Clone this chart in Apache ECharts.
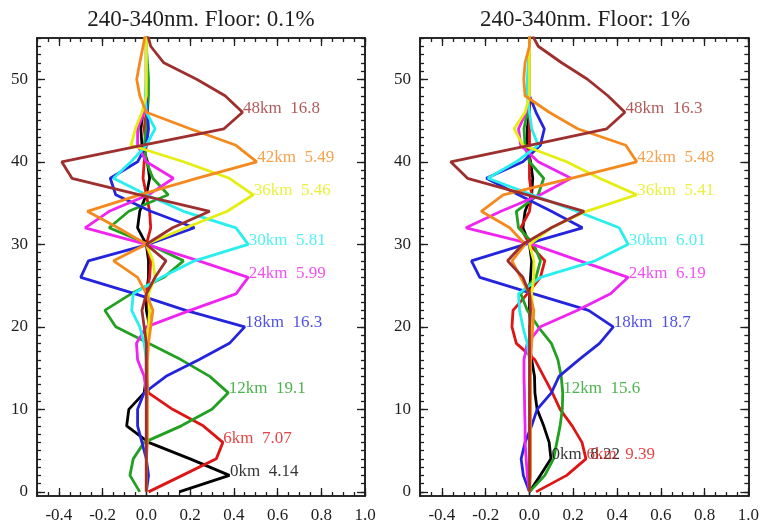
<!DOCTYPE html>
<html>
<head>
<meta charset="utf-8">
<title>Averaging kernels 240-340nm</title>
<script src="https://cdn.jsdelivr.net/npm/echarts@6/dist/echarts.min.js"></script>
<style>
  html, body { margin: 0; padding: 0; background: #ffffff; }
  #chart { width: 762px; height: 528px; }
</style>
</head>
<body>
<div id="chart"></div>
<script>
// Altitude grid of the kernels (km)
const ALT = [0, 2, 4, 6, 8, 10, 12, 14, 16, 18, 20, 22, 24, 26, 28, 30, 32, 34, 36, 38, 40, 42, 44, 46, 48, 50, 52, 54, 56];

// Axis tick labels
const X_TICKS = [-0.4, -0.2, 0.0, 0.2, 0.4, 0.6, 0.8, 1.0];
const Y_TICKS = [0, 10, 20, 30, 40, 50];

// Kernel names and colours (same order in both panels)
const KERNELS = ['0km', '6km', '12km', '18km', '24km', '30km', '36km', '42km', '48km'];
const COLORS = ['#000000', '#dd1515', '#22a022', '#2424dd', '#f024f0', '#28eeee', '#e4ee10', '#f48a1e', '#9e2f2f'];

// Panel titles
const TITLES = ['240-340nm. Floor: 0.1%', '240-340nm. Floor: 1%'];

// Values printed next to each kernel peak
const DOF_FLOOR_01 = ['4.14', '7.07', '19.1', '16.3', '5.99', '5.81', '5.46', '5.49', '16.8'];
const DOF_FLOOR_1 = ['8.22', '9.39', '15.6', '18.7', '6.19', '6.01', '5.41', '5.48', '16.3'];

// Floor 0.1% kernels, one value per altitude in ALT
const F01_0KM  = [0.15, 0.38, 0.20, 0.01, -0.09, -0.08, -0.01, 0.0, 0.0, 0.0, 0.015, 0.0, 0.0, 0.01, 0.01, 0.0, -0.04, -0.03, 0.0, 0.015, 0.005, -0.02, -0.025, -0.015, 0.0, 0.0, 0.0, 0.0, 0.0];
const F01_6KM  = [0.01, 0.165, 0.32, 0.35, 0.26, 0.12, 0.01, 0.0, 0.0, 0.0, 0.01, 0.015, 0.0, 0.015, 0.02, 0.0, 0.02, 0.015, 0.0, -0.015, -0.01, 0.0, -0.01, 0.0, 0.0, 0.0, 0.0, 0.0, 0.0];
const F01_12KM = [-0.03, -0.075, -0.06, -0.01, 0.16, 0.30, 0.375, 0.29, 0.16, 0.01, -0.14, -0.19, -0.07, 0.08, 0.17, 0.01, -0.17, -0.08, 0.10, 0.03, 0.0, -0.01, 0.0, 0.005, 0.01, 0.01, 0.005, 0.0, 0.0];
const F01_18KM = [0.0, 0.01, 0.0, -0.02, -0.04, -0.04, -0.01, 0.09, 0.24, 0.38, 0.45, 0.18, -0.05, -0.30, -0.265, 0.01, 0.22, 0.02, -0.14, -0.165, -0.04, 0.0, 0.01, 0.005, 0.0, 0.0, 0.0, 0.0, 0.0];
const F01_24KM = [0.0, 0.0, 0.0, 0.0, 0.0, 0.0, 0.0, -0.01, -0.04, -0.045, 0.0, 0.20, 0.41, 0.466, 0.24, 0.0, -0.28, -0.17, 0.01, 0.124, 0.0, -0.04, -0.04, -0.01, 0.0, 0.0, 0.0, 0.0, 0.0];
const F01_30KM = [0.0, 0.0, 0.0, 0.0, 0.0, 0.0, 0.0, 0.0, 0.0, -0.01, -0.03, -0.067, -0.06, 0.07, 0.22, 0.466, 0.41, 0.17, 0.0, -0.15, -0.07, 0.0, 0.04, 0.0, -0.005, 0.0, 0.0, 0.0, 0.0];
const F01_36KM = [0.0, 0.0, 0.0, 0.0, 0.0, 0.0, 0.0, 0.0, 0.0, 0.0, 0.01, 0.015, 0.01, 0.04, 0.03, 0.0, 0.18, 0.37, 0.489, 0.38, 0.17, -0.07, -0.05, -0.02, 0.0, 0.0, 0.0, 0.0, 0.0];
const F01_42KM = [0.0, 0.0, 0.0, 0.005, 0.005, 0.005, 0.005, 0.005, 0.005, 0.01, 0.02, 0.03, 0.0, -0.04, -0.15, 0.0, -0.13, -0.27, -0.03, 0.23, 0.505, 0.41, 0.20, 0.0, -0.03, -0.044, -0.03, -0.015, 0.0];
const F01_48KM = [0.0, 0.0, 0.0, 0.0, 0.0, 0.0, 0.0, 0.0, 0.0, 0.0, -0.01, -0.02, 0.0, 0.04, 0.09, 0.0, 0.12, 0.29, -0.03, -0.34, -0.387, -0.02, 0.355, 0.44, 0.36, 0.23, 0.08, 0.02, 0.0];

// Floor 1% kernels
const F1_0KM  = [0.0, 0.05, 0.098, 0.09, 0.065, 0.035, 0.025, 0.023, 0.01, 0.0, 0.005, 0.0, 0.0, 0.005, 0.01, 0.0, -0.03, -0.02, 0.01, 0.015, 0.005, -0.01, -0.01, 0.0, 0.0, 0.0, 0.0, 0.0, 0.0];
const F1_6KM  = [0.03, 0.17, 0.258, 0.24, 0.195, 0.14, 0.105, 0.065, 0.025, -0.06, -0.08, -0.075, -0.01, 0.05, 0.07, 0.0, -0.04, 0.0, 0.01, 0.0, 0.0, 0.0, 0.0, 0.0, 0.0, 0.0, 0.0, 0.0, 0.0];
const F1_12KM = [0.0, 0.07, 0.11, 0.125, 0.14, 0.15, 0.152, 0.145, 0.13, 0.10, 0.04, -0.01, -0.04, 0.03, 0.05, 0.02, -0.05, -0.06, 0.04, 0.065, 0.0, -0.02, -0.025, -0.01, 0.0, 0.0, 0.0, 0.0, 0.0];
const F1_18KM = [0.0, -0.028, -0.038, -0.02, 0.01, 0.035, 0.10, 0.135, 0.225, 0.32, 0.383, 0.27, 0.02, -0.227, -0.265, -0.02, 0.242, 0.10, -0.05, -0.197, -0.03, 0.05, 0.068, 0.03, 0.0, 0.0, 0.0, 0.0, 0.0];
const F1_24KM = [0.0, -0.01, -0.015, -0.02, -0.02, -0.022, -0.023, -0.025, -0.025, -0.01, 0.05, 0.22, 0.37, 0.451, 0.23, 0.015, -0.29, -0.13, 0.05, 0.19, 0.04, -0.04, -0.05, -0.015, 0.0, 0.0, 0.0, 0.0, 0.0];
const F1_30KM = [0.0, 0.0, 0.0, 0.0, 0.0, 0.0, 0.0, 0.0, 0.0, -0.01, -0.03, -0.045, -0.05, 0.05, 0.30, 0.451, 0.41, 0.216, 0.012, -0.19, -0.06, 0.04, 0.01, 0.0, -0.01, -0.01, -0.005, 0.0, 0.0];
const F1_36KM = [0.0, 0.0, 0.0, 0.0, 0.0, 0.0, 0.0, 0.0, 0.0, 0.0, 0.01, 0.015, 0.01, 0.02, 0.02, 0.0, 0.10, 0.26, 0.49, 0.32, 0.17, -0.03, -0.07, -0.02, 0.0, 0.0, 0.0, 0.0, 0.0];
const F1_42KM = [0.0, 0.005, 0.005, 0.005, 0.005, 0.005, 0.005, 0.005, 0.005, 0.01, 0.015, 0.02, 0.0, -0.04, -0.08, -0.02, -0.09, -0.22, -0.12, 0.19, 0.49, 0.44, 0.22, 0.09, -0.02, -0.026, -0.02, 0.0, 0.0];
const F1_48KM = [0.0, 0.0, 0.0, 0.0, 0.0, 0.0, 0.0, 0.0, 0.0, 0.0, 0.0, 0.005, 0.0, -0.03, -0.10, -0.03, 0.10, 0.25, -0.01, -0.283, -0.36, 0.0, 0.353, 0.436, 0.358, 0.265, 0.147, 0.04, 0.0];

const PANELS = [
  { title: TITLES[0], dof: DOF_FLOOR_01,
    curves: [F01_0KM, F01_6KM, F01_12KM, F01_18KM, F01_24KM, F01_30KM, F01_36KM, F01_42KM, F01_48KM] },
  { title: TITLES[1], dof: DOF_FLOOR_1,
    curves: [F1_0KM, F1_6KM, F1_12KM, F1_18KM, F1_24KM, F1_30KM, F1_36KM, F1_42KM, F1_48KM] }
];

const FONT = '"Liberation Serif", "DejaVu Serif", serif';
const INK = '#1e1e1e';
const X_MIN = -0.5, X_MAX = 1.0, Y_MIN = -0.5, Y_MAX = 55;

// Minor tick positions: every 0.05 on x, every 1 km on y
const xMinor = [];
for (let i = -10; i <= 20; i++) xMinor.push(Math.round(i * 5) / 100);
const yMinor = [];
for (let i = 0; i <= 55; i++) yMinor.push(i);

const GRIDS = [
  { left: 37, top: 38, width: 328, height: 458 },
  { left: 420, top: 38, width: 330, height: 458 }
];

const xAxes = [], yAxes = [], series = [], titles = [];

function xAxis(grid, position, ticks, len, labels) {
  return {
    type: 'value', gridIndex: grid, position: position,
    min: X_MIN, max: X_MAX,
    splitLine: { show: false },
    axisLine: { show: true, onZero: false, lineStyle: { color: INK, width: 1.6 } },
    axisTick: { show: true, inside: true, length: len, customValues: ticks,
                lineStyle: { color: INK, width: 1.3 } },
    axisLabel: labels ? {
      show: true, customValues: X_TICKS, margin: 11,
      formatter: v => v.toFixed(1),
      fontFamily: FONT, fontSize: 17, color: INK
    } : { show: false }
  };
}

function yAxis(grid, position, ticks, len, labels) {
  return {
    type: 'value', gridIndex: grid, position: position,
    min: Y_MIN, max: Y_MAX,
    splitLine: { show: false },
    axisLine: { show: true, onZero: false, lineStyle: { color: INK, width: 1.6 } },
    axisTick: { show: true, inside: true, length: len, customValues: ticks,
                lineStyle: { color: INK, width: 1.3 } },
    axisLabel: labels ? {
      show: true, customValues: Y_TICKS, margin: 9,
      formatter: v => String(v),
      fontFamily: FONT, fontSize: 17, color: INK
    } : { show: false }
  };
}

PANELS.forEach((panel, g) => {
  const xBase = xAxes.length, yBase = yAxes.length;
  xAxes.push(xAxis(g, 'bottom', X_TICKS, 8, true));
  xAxes.push(xAxis(g, 'bottom', xMinor, 4, false));
  xAxes.push(xAxis(g, 'top', X_TICKS, 8, false));
  xAxes.push(xAxis(g, 'top', xMinor, 4, false));
  yAxes.push(yAxis(g, 'left', Y_TICKS, 8, true));
  yAxes.push(yAxis(g, 'left', yMinor, 4, false));
  yAxes.push(yAxis(g, 'right', Y_TICKS, 8, false));
  yAxes.push(yAxis(g, 'right', yMinor, 4, false));

  const gr = GRIDS[g];
  titles.push({
    text: panel.title, left: gr.left + gr.width / 2 - 5, top: 3, textAlign: 'center',
    textStyle: { fontFamily: FONT, fontSize: 23, fontWeight: 'normal', color: INK }
  });

  const peaks = [];
  panel.curves.forEach((vals, k) => {
    series.push({
      type: 'line', name: KERNELS[k],
      xAxisIndex: xBase, yAxisIndex: yBase,
      data: vals.map((v, i) => [v, ALT[i]]),
      symbol: 'none', showSymbol: false, clip: true,
      lineStyle: { color: COLORS[k], width: 2.8 },
      itemStyle: { color: COLORS[k] },
      z: 2 + k
    });
    // label sits at the kernel's maximum
    let m = 0;
    vals.forEach((v, i) => { if (v > vals[m]) m = i; });
    peaks.push({
      value: [vals[m], ALT[m]],
      label: {
        show: true, position: 'right', distance: 0, offset: [0, -4],
        formatter: KERNELS[k] + '  ' + panel.dof[k],
        color: COLORS[k], fontFamily: FONT, fontSize: 17
      }
    });
  });
  series.push({
    type: 'scatter', xAxisIndex: xBase, yAxisIndex: yBase,
    data: peaks, symbolSize: 1, itemStyle: { color: 'rgba(0,0,0,0)' },
    silent: true, z: 20
  });
});

const chart = echarts.init(document.getElementById('chart'), null, { renderer: 'canvas' });
chart.setOption({
  animation: false,
  backgroundColor: '#ffffff',
  title: titles,
  grid: GRIDS.map(g => Object.assign({ containLabel: false }, g)),
  xAxis: xAxes,
  yAxis: yAxes,
  series: series
});
</script>
</body>
</html>
